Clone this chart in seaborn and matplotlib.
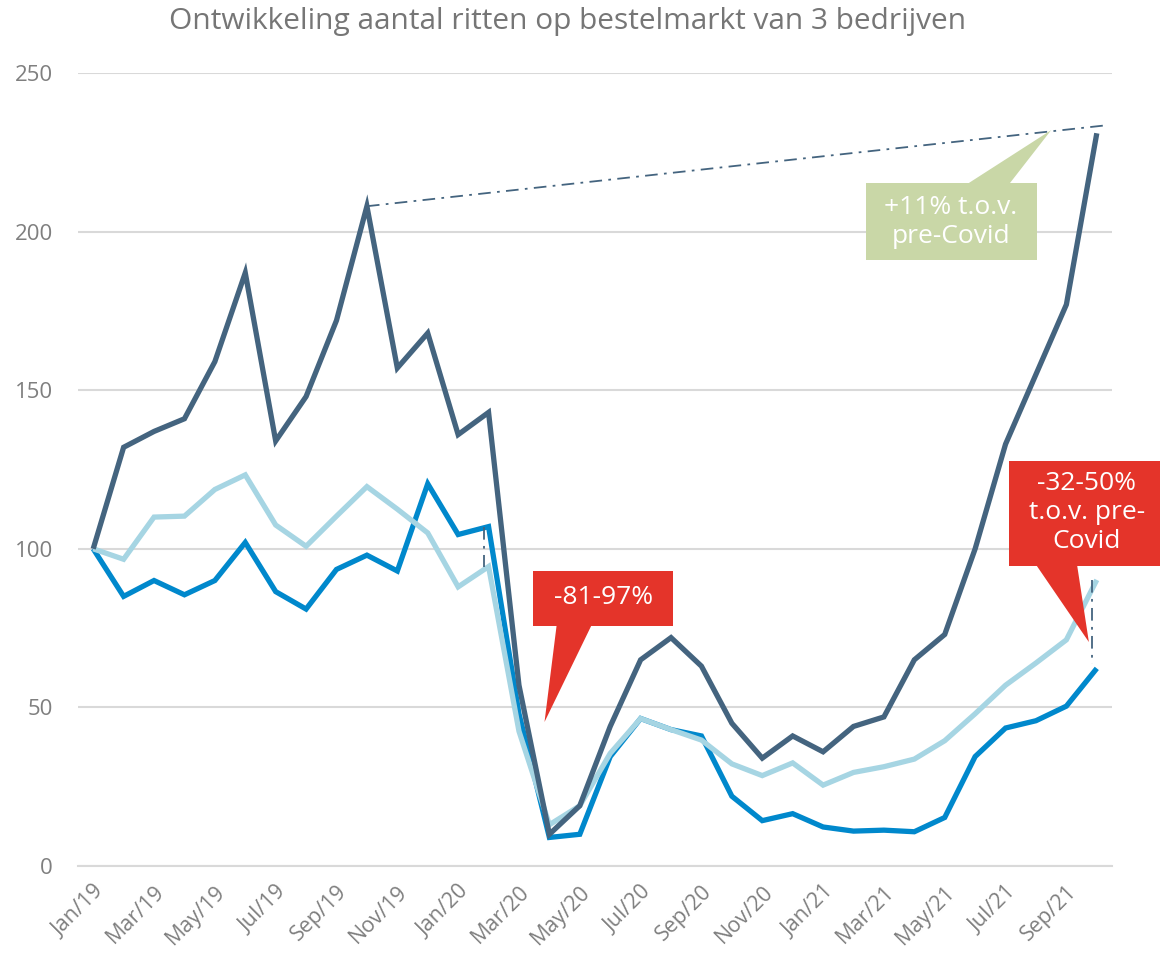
import matplotlib
matplotlib.use("Agg")
import matplotlib.pyplot as plt
import numpy as np
import pandas as pd
import seaborn as sns
from matplotlib.patches import Polygon

# ---------------- data ----------------
months = ["Jan/19", "Feb/19", "Mar/19", "Apr/19", "May/19", "Jun/19", "Jul/19", "Aug/19",
          "Sep/19", "Oct/19", "Nov/19", "Dec/19",
          "Jan/20", "Feb/20", "Mar/20", "Apr/20", "May/20", "Jun/20", "Jul/20", "Aug/20",
          "Sep/20", "Oct/20", "Nov/20", "Dec/20",
          "Jan/21", "Feb/21", "Mar/21", "Apr/21", "May/21", "Jun/21", "Jul/21", "Aug/21",
          "Sep/21", "Oct/21"]

bedrijf_donker = [100, 132, 137, 141, 159, 187, 134, 148, 172, 208, 157, 168,
                  136, 143, 57, 10, 19, 44, 65, 72, 63, 45, 34, 41,
                  36, 44, 47, 65, 73, 100, 133, 155, 177, 231]
bedrijf_midden = [100, 85, 90, 85.5, 90, 102, 86.5, 81, 93.5, 98, 93, 120.5,
                  104.5, 107, 48, 9, 10, 34.5, 46.5, 43, 41, 22, 14.3, 16.5,
                  12.3, 11, 11.3, 10.8, 15.3, 34.5, 43.5, 45.8, 50.4, 62.3]
bedrijf_licht = [100, 96.7, 110, 110.3, 118.7, 123.3, 107.5, 100.8, 110.3, 119.6, 112.5, 105,
                 88, 94.4, 42.5, 13, 19, 35.5, 46.5, 43, 39.7, 32.2, 28.5, 32.5,
                 25.5, 29.5, 31.3, 33.7, 39.5, 48, 57, 64, 71.3, 90.2]

series_names = ["midden", "licht", "donker"]
palette = {"donker": "#44647f", "midden": "#0088cc", "licht": "#a6d5e3"}

# trend line (pre-Covid peak -> last month, +11%)
trend_x = [9, 33.2]
trend_y = [208, 233.4]

# annotation texts
txt_drop = "-81-97%"
txt_up = "+11% t.o.v.\npre-Covid"
txt_gap = "-32-50%\nt.o.v. pre-\nCovid"
title = "Ontwikkeling aantal ritten op bestelmarkt van 3 bedrijven"

# ---------------- build frame ----------------
x = np.arange(len(months))
df = pd.concat([
    pd.DataFrame({"x": x, "waarde": bedrijf_midden, "bedrijf": "midden"}),
    pd.DataFrame({"x": x, "waarde": bedrijf_licht, "bedrijf": "licht"}),
    pd.DataFrame({"x": x, "waarde": bedrijf_donker, "bedrijf": "donker"}),
])

sns.set_theme(style="white")
plt.rcParams["font.family"] = ["Open Sans", "DejaVu Sans"]

fig = plt.figure(figsize=(11.6, 9.58), dpi=100)
ax = fig.add_axes([78 / 1160, 1 - 866 / 958, (1112 - 78) / 1160, (866 - 73) / 958])

sns.lineplot(data=df, x="x", y="waarde", hue="bedrijf", hue_order=series_names,
             palette=palette, linewidth=3.8, legend=False, ax=ax,
             solid_capstyle="butt", solid_joinstyle="miter", sort=False)

# dash-dot helper lines
dd_color = "#44647f"
dd_style = (0, (7, 3.5, 1.5, 3.5))
ax.plot(trend_x, trend_y, linestyle=dd_style, color=dd_color, lw=1.3, zorder=5)
ax.plot([12.85, 12.85], [bedrijf_midden[13], bedrijf_licht[13]],
        linestyle=dd_style, color=dd_color, lw=1.3, zorder=5)
ax.plot([32.85, 32.85], [bedrijf_licht[33], bedrijf_midden[33] + 1.5],
        linestyle=dd_style, color=dd_color, lw=1.3, zorder=5)

# axes styling
ax.set_xlim(-0.5, 33.5)
ax.set_ylim(0, 250)
ax.set_yticks([0, 50, 100, 150, 200, 250])
ax.grid(axis="y", color="#d9d9d9", lw=1.5)
ax.set_axisbelow(True)
for s in ["top", "right", "left"]:
    ax.spines[s].set_visible(False)
ax.spines["bottom"].set_color("#d9d9d9")
ax.spines["bottom"].set_linewidth(1.5)
ax.set_xlabel("")
ax.set_ylabel("")

ax.set_xticks(x[::2])
ax.set_xticklabels(months[::2], rotation=45, ha="right", rotation_mode="anchor")
ax.set_xticks(np.arange(-0.5, 34, 2), minor=True)
ax.tick_params(axis="x", which="major", length=0, pad=11, labelsize=15.5, labelcolor="#7f7f7f")
ax.tick_params(axis="x", which="minor", length=6, width=1.5, color="#d9d9d9", direction="out")
ax.tick_params(axis="y", length=0, pad=18, labelsize=16, labelcolor="#7f7f7f")

# callouts
red = "#e4342a"
green = "#c9d7a7"
def callout(box, ptr, color, text, tx, ty, fs):
    x0, x1, y0, y1 = box
    poly = Polygon([(x0, y0), (x0, y1), (x1, y1), (x1, y0)], closed=True,
                   facecolor=color, edgecolor="none", zorder=6, clip_on=False)
    ax.add_patch(poly)
    tri = Polygon(ptr, closed=True, facecolor=color, edgecolor="none", zorder=6, clip_on=False)
    ax.add_patch(tri)
    ax.text(tx, ty, text, color="white", ha="center", va="center", fontsize=fs,
            linespacing=1.22, zorder=7, clip_on=False)

callout((14.45, 19.08, 75.7, 93.0), [(15.24, 76), (16.39, 76), (14.84, 45.4)],
        red, txt_drop, 16.77, 84.6, 19)
callout((25.42, 31.03, 191.0, 215.3), [(28.74, 215), (30.12, 215), (31.5, 232.0)],
        green, txt_up, 28.2, 203, 19)
callout((30.12, 35.2, 94.6, 127.7), [(31.0, 95), (32.35, 95), (32.74, 70.6)],
        red, txt_gap, 32.67, 111.5, 19)

fig.text(568 / 1160, 1 - 22 / 958, title, ha="center", va="center",
         fontsize=21.5, color="#767676")

fig.savefig("out.png", dpi=100, facecolor="white")
